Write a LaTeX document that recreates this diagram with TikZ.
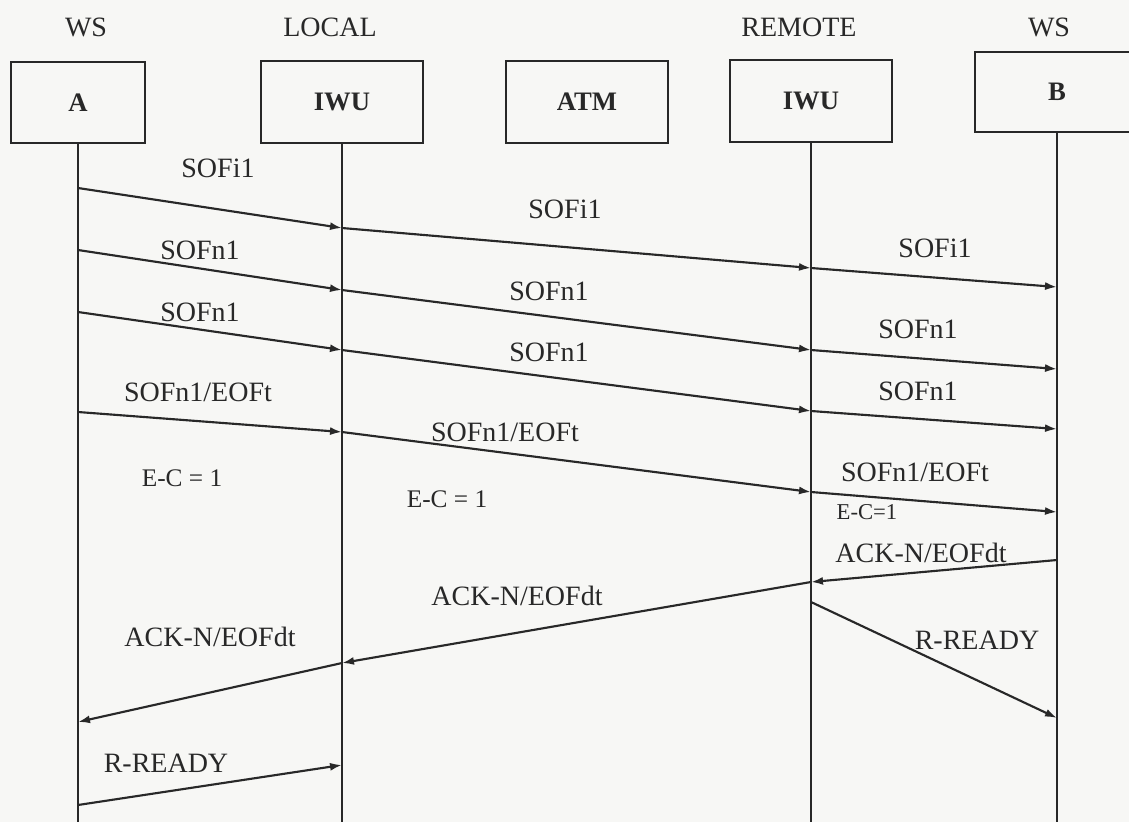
\documentclass[tikz,border=0pt]{standalone}
\usepackage{fontspec}
\setmainfont{Liberation Serif}
\usepackage{xcolor}
\usetikzlibrary{arrows.meta, positioning}
\definecolor{paper}{RGB}{247,247,245}
\definecolor{ink}{RGB}{40,40,40}

\begin{document}
\begin{tikzpicture}[
  x=0.75pt, y=-0.75pt,
  box/.style={rectangle, draw=ink, line width=1.5pt, minimum width=122pt,
              minimum height=61pt, font=\fontsize{20}{24}\selectfont\bfseries, text=ink},
  head/.style={font=\fontsize{21}{25}\selectfont, text=ink, inner sep=0pt,
               text height=13.9pt, text depth=0pt},
  msglabel/.style={font=\fontsize{21}{25}\selectfont, text=ink, inner sep=0pt,
                   text height=13.9pt, text depth=0pt},
  eclabel/.style={msglabel, font=\fontsize{19}{23}\selectfont, text height=12.6pt},
  lifeline/.style={draw=ink, line width=1.4pt},
  arrow/.style={-{Latex[length=9pt,width=6pt]}, draw=ink, line width=1.6pt}]

  \fill[paper] (0,0) rectangle (1129,822);
  \useasboundingbox (0,0) rectangle (1129,822);

  \node[head] (hA) at (86,27) {WS};
  \node[head] (hL) at (330,27) {LOCAL};
  \node[head] (hR) at (799,27) {REMOTE};
  \node[head] (hB) at (1049,27) {WS};

  \node[box, minimum width=100.5pt] (boxA) at (78,102.5) {A};
  \node[box] (boxL) at (342,102) {IWU};
  \node[box] (boxM) at (587,102) {ATM};
  \node[box] (boxR) at (811,101) {IWU};
  \node[box, minimum width=123pt, minimum height=60pt] (boxB) at (1057,92) {B};

  \coordinate (endA) at (78,822);
  \coordinate (endL) at (342,822);
  \coordinate (endR) at (811,822);
  \coordinate (endB) at (1057,822);

  \draw[lifeline] (boxA) -- (endA);
  \draw[lifeline] (boxL) -- (endL);
  \draw[lifeline] (boxR) -- (endR);
  \draw[lifeline] (boxB) -- (endB);

  \coordinate (A1) at (78,188);   \coordinate (L1) at (342,228);
  \coordinate (R1) at (811,268);  \coordinate (B1) at (1057,287);
  \coordinate (A2) at (78,250);   \coordinate (L2) at (342,290);
  \coordinate (R2) at (811,350);  \coordinate (B2) at (1057,369);
  \coordinate (A3) at (78,312);   \coordinate (L3) at (342,350);
  \coordinate (R3) at (811,411);  \coordinate (B3) at (1057,429);
  \coordinate (A4) at (78,412);   \coordinate (L4) at (342,432);
  \coordinate (R4) at (811,492);  \coordinate (B4) at (1057,512);
  \coordinate (B5) at (1057,560); \coordinate (R5) at (811,582);
  \coordinate (L5) at (342,663);  \coordinate (A5) at (78,722);
  \coordinate (R6) at (811,602);  \coordinate (B6) at (1057,718);
  \coordinate (A7) at (78,805);   \coordinate (L7) at (342,765);

  \draw[arrow] (A1) -- (L1);
  \draw[arrow] (L1) -- (R1);
  \draw[arrow] (R1) -- (B1);
  \draw[arrow] (A2) -- (L2);
  \draw[arrow] (L2) -- (R2);
  \draw[arrow] (R2) -- (B2);
  \draw[arrow] (A3) -- (L3);
  \draw[arrow] (L3) -- (R3);
  \draw[arrow] (R3) -- (B3);
  \draw[arrow] (A4) -- (L4);
  \draw[arrow] (L4) -- (R4);
  \draw[arrow] (R4) -- (B4);
  \draw[arrow] (B5) -- (R5);
  \draw[arrow] (R5) -- (L5);
  \draw[arrow] (L5) -- (A5);
  \draw[arrow] (R6) -- (B6);
  \draw[arrow] (A7) -- (L7);

  \node[msglabel] (t1a) at (218,168) {SOFi1};
  \node[msglabel] (t1b) at (565,209) {SOFi1};
  \node[msglabel] (t1c) at (935,248) {SOFi1};
  \node[msglabel] (t2a) at (200,250) {SOFn1};
  \node[msglabel] (t2b) at (549,291) {SOFn1};
  \node[msglabel] (t2c) at (918,329) {SOFn1};
  \node[msglabel] (t3a) at (200,312) {SOFn1};
  \node[msglabel] (t3b) at (549,352) {SOFn1};
  \node[msglabel] (t3c) at (918,391) {SOFn1};
  \node[msglabel] (t4a) at (198,392) {SOFn1/EOFt};
  \node[msglabel] (t4b) at (505,432) {SOFn1/EOFt};
  \node[msglabel] (t4c) at (915,472) {SOFn1/EOFt};
  \node[eclabel] (eca) at (182,478) {E-C = 1};
  \node[eclabel] (ecb) at (447,499) {E-C = 1};
  \node[eclabel, font=\fontsize{17}{20}\selectfont, text height=11.3pt] (ecc) at (867,512) {E-C=1};
  \node[msglabel] (t5a) at (921,553) {ACK-N/EOFdt};
  \node[msglabel] (t5b) at (517,596) {ACK-N/EOFdt};
  \node[msglabel] (t5c) at (210,637) {ACK-N/EOFdt};
  \node[msglabel] (t6a) at (977,640) {R-READY};
  \node[msglabel] (t6b) at (166,763) {R-READY};
\end{tikzpicture}
\end{document}
